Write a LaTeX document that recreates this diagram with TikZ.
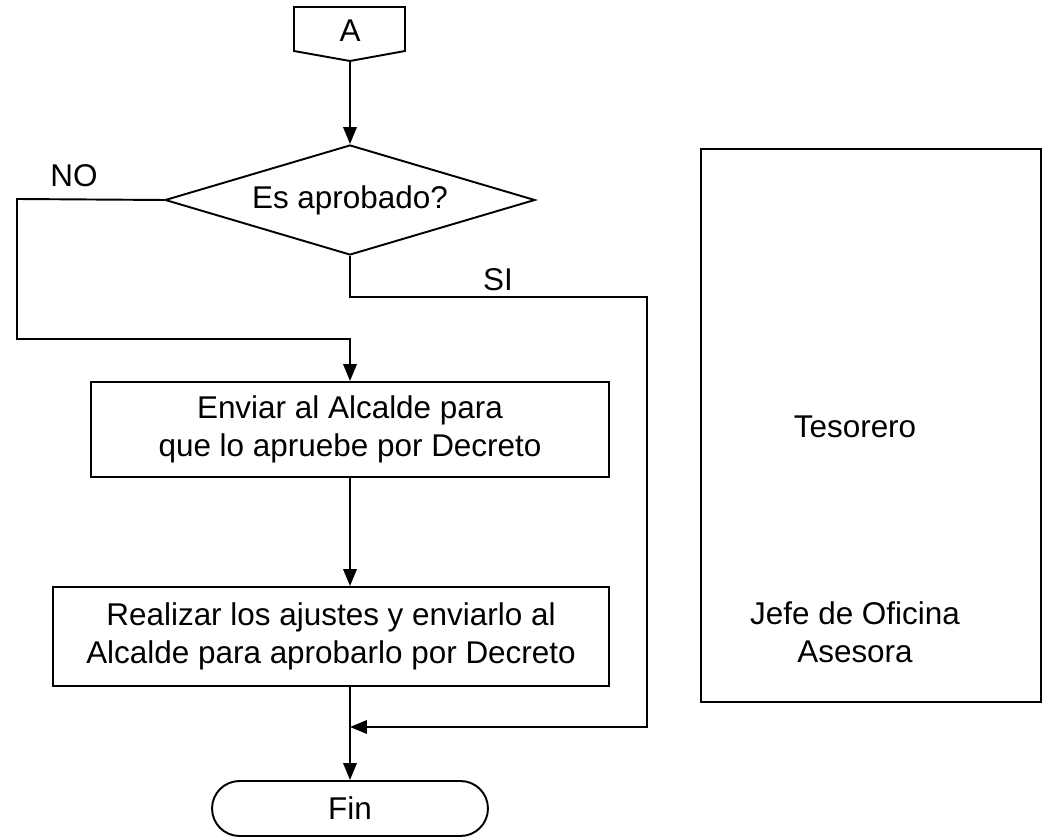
\documentclass[tikz,border=0pt]{standalone}
\usepackage{fontspec}
\setmainfont{Liberation Sans}
\usetikzlibrary{arrows.meta,positioning,shapes.geometric,shapes.misc}

\begin{document}
\begin{tikzpicture}[x=0.02cm, y=-0.02cm,
  every node/.style={font=\fontsize{17.9}{21.6}\selectfont},
  box/.style={draw, line width=1.1pt, rectangle, inner sep=0pt, align=center},
  decision/.style={draw, line width=1.1pt, diamond, aspect=3.36, inner sep=0pt,
    minimum width=7.4cm, minimum height=2.2cm},
  terminal/.style={draw, line width=1.1pt, rounded rectangle, inner sep=0pt,
    minimum width=5.52cm, minimum height=1.1cm},
  line/.style={line width=1.1pt},
  arr/.style={-{Triangle[length=3.4mm, width=2.7mm]}, line width=1.1pt}
]
\useasboundingbox (0,0) rectangle (1042,837);

% off-page connector
\draw[line] (294,7) -- (405,7) -- (405,51) -- (350,61) -- (294,51) -- cycle;
\node (conA) at (350,31) {A};
\coordinate (conAtip) at (350,61);

\node[decision] (dec) at (350,200) {Es aprobado?};
\node (no) at (74,176) {NO};
\node (si) at (498,280) {SI};

\node[box, minimum width=10.36cm, minimum height=1.9cm] (enviar) at (350,429.5)
  {Enviar al Alcalde para\\que lo apruebe por Decreto};
\node[box, minimum width=11.12cm, minimum height=1.98cm] (ajustes) at (331,636.5)
  {Realizar los ajustes y enviarlo al\\Alcalde para aprobarlo por Decreto};
\node[terminal] (fin) at (350,808.5) {Fin};
\coordinate (join) at (350,727);

% responsables
\node[box, minimum width=6.8cm, minimum height=11.06cm] (lane) at (871,425.5) {};
\node (tes) at (855,427) {Tesorero};
\node[align=center] (jefe) at (855,632) {Jefe de Oficina\\Asesora};

\draw[arr] (conAtip) -- (dec.north);
\draw[arr] (dec.west) -- (17,199) -- (17,339) -| (enviar.north);
\draw[arr] (dec.south) |- (647,297) |- (join);
\draw[arr] (enviar.south) -- (enviar.south |- ajustes.north);
\draw[arr] (ajustes.south -| fin.north) -- (fin.north);
\end{tikzpicture}
\end{document}
